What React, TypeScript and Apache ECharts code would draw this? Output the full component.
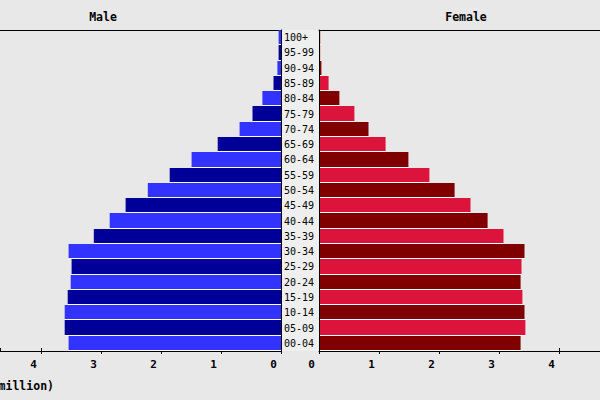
import React, { useEffect, useRef } from "react";
import * as echarts from "echarts";

const categories = ["00-04","05-09","10-14","15-19","20-24","25-29","30-34","35-39","40-44","45-49","50-54","55-59","60-64","65-69","70-74","75-79","80-84","85-89","90-94","95-99","100+"];
const maleValues = [3.54,3.605,3.605,3.555,3.505,3.49,3.54,3.12,2.855,2.59,2.22,1.855,1.49,1.055,0.69,0.475,0.31,0.125,0.06,0.04,0.04];
const femaleValues = [3.36,3.44,3.425,3.39,3.36,3.375,3.425,3.075,2.81,2.525,2.26,1.84,1.49,1.11,0.825,0.59,0.34,0.16,0.04,0.02,0.02];
const maleColors = ["#3333ff", "#000099"];
const femaleColors = ["#800000", "#dc143c"];
const axisTitle = "Population (million)";

const MONO = "'DejaVu Sans Mono', 'Liberation Mono', monospace";
const AXIS_MAX = 281 / 60;

function makeRender(colors: string[]) {
  return (params: any, api: any) => {
    const v = api.value(0);
    const cat = api.value(1);
    const p0 = api.coord([0, cat]);
    const p1 = api.coord([v, cat]);
    const band = api.size([0, 1])[1];
    const top = Math.round(p0[1] - band / 2);
    const bottom = Math.round(p0[1] + band / 2);
    const x0 = Math.min(p0[0], p1[0]);
    const w = Math.abs(p1[0] - p0[0]);
    return {
      type: "group",
      children: [
        { type: "rect", shape: { x: x0, y: top, width: w, height: bottom - top - 1 }, style: { fill: colors[params.dataIndex % 2] } },
        { type: "rect", shape: { x: x0, y: bottom - 1, width: w, height: 1 }, style: { fill: "#ffffff" } },
      ],
    };
  };
}

export default function App() {
  const ref = useRef<HTMLDivElement>(null);
  useEffect(() => {
    document.body.style.margin = "0";
    const chart = echarts.init(ref.current!, null, { renderer: "svg" });
    const xBase = (gridIndex: number, inverse: boolean, position: string) => ({
      type: "value",
      gridIndex,
      min: 0,
      max: AXIS_MAX,
      interval: 1,
      inverse,
      position,
      offset: 0,
      splitLine: { show: false },
    });
    const mainLabel = { show: true, showMaxLabel: false, margin: 8, color: "#000", fontFamily: MONO, fontWeight: "bold", fontSize: 11, padding: [0, 15, 0, 0] };
    const lineOnly = { show: true, lineStyle: { color: "#000", width: 1 } };
    const option: any = {
      animation: false,
      backgroundColor: "#e8e8e8",
      grid: [
        { left: 0, right: 319, top: 30, bottom: 49 },
        { left: 319, right: 0, top: 30, bottom: 49 },
      ],
      xAxis: [
        { ...xBase(0, true, "bottom"), axisLine: lineOnly, axisTick: { show: true, length: 3, lineStyle: { color: "#000" } }, axisLabel: mainLabel },
        { ...xBase(1, false, "bottom"), axisLine: lineOnly, axisTick: { show: true, length: 3, lineStyle: { color: "#000" } }, axisLabel: mainLabel },
        { ...xBase(0, true, "bottom"), axisLine: { show: false }, axisTick: { show: true, inside: true, length: 3, lineStyle: { color: "#000" } }, axisLabel: { show: false } },
        { ...xBase(1, false, "bottom"), axisLine: { show: false }, axisTick: { show: true, inside: true, length: 3, lineStyle: { color: "#000" } }, axisLabel: { show: false } },
        { ...xBase(0, true, "top"), axisLine: lineOnly, axisTick: { show: false }, axisLabel: { show: false } },
        { ...xBase(1, false, "top"), axisLine: lineOnly, axisTick: { show: false }, axisLabel: { show: false } },
      ],
      yAxis: [
        {
          type: "category",
          gridIndex: 0,
          position: "right",
          data: categories,
          z: 10,
          axisLine: lineOnly,
          axisTick: { show: false },
          axisLabel: { show: true, align: "left", margin: 3, color: "#000", fontFamily: MONO, fontSize: 10 },
        },
        {
          type: "category",
          gridIndex: 1,
          position: "left",
          data: categories,
          z: 10,
          axisLine: lineOnly,
          axisTick: { show: false },
          axisLabel: { show: false },
        },
      ],
      series: [
        {
          name: "Male",
          type: "custom",
          xAxisIndex: 0,
          yAxisIndex: 0,
          data: maleValues.map((v, i) => [v, i]),
          encode: { x: 0, y: 1 },
          renderItem: makeRender(maleColors),
        },
        {
          name: "Female",
          type: "custom",
          xAxisIndex: 1,
          yAxisIndex: 1,
          data: femaleValues.map((v, i) => [v, i]),
          encode: { x: 0, y: 1 },
          renderItem: makeRender(femaleColors),
        },
      ],
      graphic: [
        { type: "rect", z: -1, shape: { x: 281, y: 30, width: 38, height: 321 }, style: { fill: "#efefef" } },
        { type: "text", x: 103, y: 17, style: { text: "Male", fontFamily: MONO, fontWeight: "bold", fontSize: 11.5, fill: "#000", align: "center", verticalAlign: "middle" } },
        { type: "text", x: 466, y: 17, style: { text: "Female", fontFamily: MONO, fontWeight: "bold", fontSize: 11.5, fill: "#000", align: "center", verticalAlign: "middle" } },
        { type: "text", x: 54, y: 386, style: { text: axisTitle, fontFamily: MONO, fontWeight: "bold", fontSize: 11.5, fill: "#000", align: "right", verticalAlign: "middle" } },
      ],
    };
    chart.setOption(option);
    return () => chart.dispose();
  }, []);
  return <div ref={ref} style={{ width: 600, height: 400, background: "#e8e8e8" }} />;
}
